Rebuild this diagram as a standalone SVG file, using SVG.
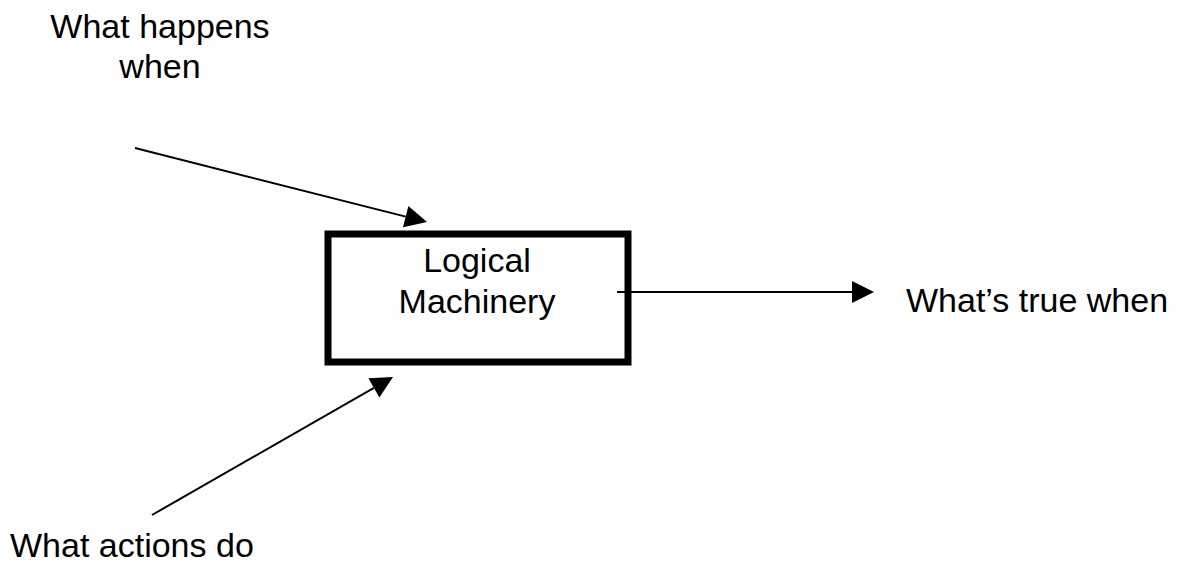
<svg xmlns="http://www.w3.org/2000/svg" width="1179" height="565" viewBox="0 0 1179 565">
  <style>
    .lbl { font-family: "Liberation Sans", Arial, sans-serif; font-size: 34px; fill: #000; }
    .conn { stroke: #000; stroke-width: 2; fill: none; }
  </style>
  <defs>
    <marker id="arrow" markerUnits="userSpaceOnUse" markerWidth="22" markerHeight="22" refX="0" refY="11" orient="auto" overflow="visible">
      <path d="M0,0 L22,11 L0,22 Z" fill="#000"/>
    </marker>
  </defs>
  <rect width="1179" height="565" fill="#fff"/>
  <g id="connectors">
    <line class="conn" x1="135" y1="148" x2="405.7" y2="216.6" marker-end="url(#arrow)"/>
    <line class="conn" x1="152" y1="515" x2="373.9" y2="387.9" marker-end="url(#arrow)"/>
    <line class="conn" x1="617" y1="292" x2="852" y2="292" marker-end="url(#arrow)"/>
  </g>
  <g id="logical-machinery">
    <rect x="328" y="234" width="300" height="128" fill="none" stroke="#000" stroke-width="7"/>
    <text class="lbl" x="477" y="272" text-anchor="middle">Logical</text>
    <text class="lbl" x="477" y="313" text-anchor="middle">Machinery</text>
  </g>
  <g id="what-happens-when">
    <text class="lbl" x="160" y="38" text-anchor="middle">What happens</text>
    <text class="lbl" x="160" y="78" text-anchor="middle">when</text>
  </g>
  <g id="whats-true-when">
    <text class="lbl" x="906" y="312">What’s true when</text>
  </g>
  <g id="what-actions-do">
    <text class="lbl" x="10" y="557">What actions do</text>
  </g>
</svg>
